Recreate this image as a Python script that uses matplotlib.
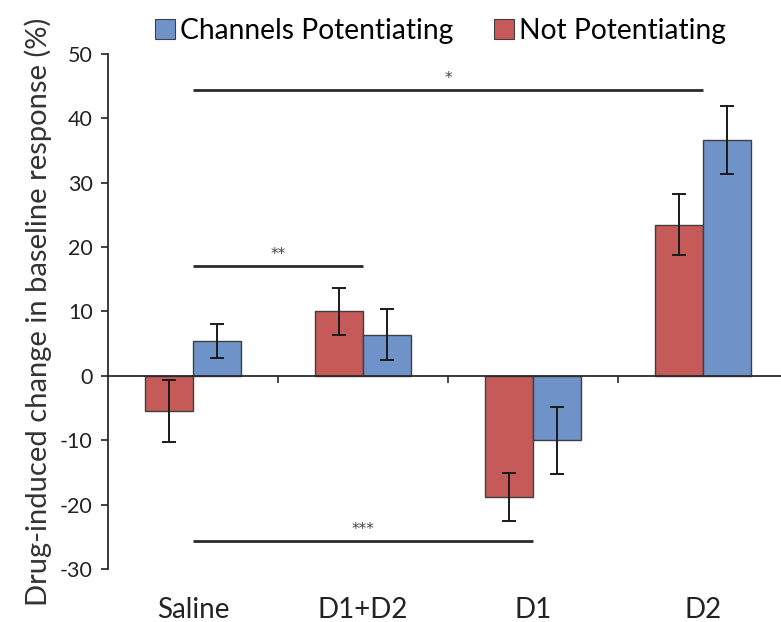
import numpy as np
import matplotlib
matplotlib.use("Agg")
import matplotlib.pyplot as plt
from matplotlib.patches import Patch

plt.rcParams["font.family"] = ["Lato", "DejaVu Sans"]
plt.rcParams["axes.unicode_minus"] = False

# data
groups = ["Saline", "D1+D2", "D1", "D2"]
not_pot = [-5.5, 10.0, -18.8, 23.5]
not_pot_err = [4.8, 3.6, 3.7, 4.7]
chan_pot = [5.4, 6.4, -10.0, 36.6]
chan_pot_err = [2.6, 4.0, 5.2, 5.3]

# significance brackets: (from group, to group, height, label)
sig_from = [0, 0, 0]
sig_to = [3, 1, 2]
sig_y = [44.4, 17.0, -25.7]
sig_lab = ["*", "**", "***"]

red = "#C55A58"
blue = "#6F93C9"
edge = "#3f3f3f"

fig = plt.figure(figsize=(7.81, 6.22), dpi=100)
ax = fig.add_axes([0.1383, 0.0852, 0.8707, 0.828])

x = np.arange(len(groups))
w = 0.285
ekw = dict(ecolor="#1a1a1a", elinewidth=1.4, capthick=1.4)
ax.bar(x - w / 2, not_pot, w, yerr=not_pot_err, color=red, edgecolor=edge,
       linewidth=1.0, capsize=5, error_kw=ekw, zorder=2)
ax.bar(x + w / 2, chan_pot, w, yerr=chan_pot_err, color=blue, edgecolor=edge,
       linewidth=1.0, capsize=5, error_kw=ekw, zorder=2)

for a, b, y, lab in zip(sig_from, sig_to, sig_y, sig_lab):
    ax.plot([a, b], [y, y], color="#2b2b2b", linewidth=2.0, solid_capstyle="butt", clip_on=False)
    ax.text((a + b) / 2, y + 0.7, lab, ha="center", va="bottom", fontsize=11,
            color="#444444", family="DejaVu Sans")

ax.set_xlim(-0.5, 3.5)
ax.set_ylim(-30, 50)
ax.set_yticks(np.arange(-30, 51, 10))
ax.tick_params(axis="y", direction="out", length=5, width=1.2, labelsize=15.5,
               colors="#222222", pad=6)

ax.spines["top"].set_visible(False)
ax.spines["right"].set_visible(False)
ax.spines["left"].set_color("#2b2b2b")
ax.spines["left"].set_linewidth(1.3)
ax.spines["bottom"].set_position(("data", 0))
ax.spines["bottom"].set_color("#2b2b2b")
ax.spines["bottom"].set_linewidth(1.3)
ax.set_xticks([0.5, 1.5, 2.5])
ax.set_xticklabels([])
ax.tick_params(axis="x", direction="out", length=5, width=1.2, colors="#2b2b2b")

for i, g in enumerate(groups):
    ax.text(i, -0.08, g, transform=ax.get_xaxis_transform(), ha="center", va="center",
            fontsize=20, color="#222222")

ax.set_ylabel("Drug-induced change in baseline response (%)", fontsize=21, color="#333333",
              labelpad=6)

handles = [Patch(facecolor=blue, edgecolor=edge, linewidth=0.8),
           Patch(facecolor=red, edgecolor=edge, linewidth=0.8)]
fig.legend(handles, ["Channels Potentiating", "Not Potentiating"], loc="center",
           bbox_to_anchor=(0.564, 0.95), ncol=2, frameon=False, fontsize=20.3,
           handlelength=0.72, handleheight=0.72, handletextpad=0.18, columnspacing=1.45)

fig.savefig("out.png", dpi=100)
